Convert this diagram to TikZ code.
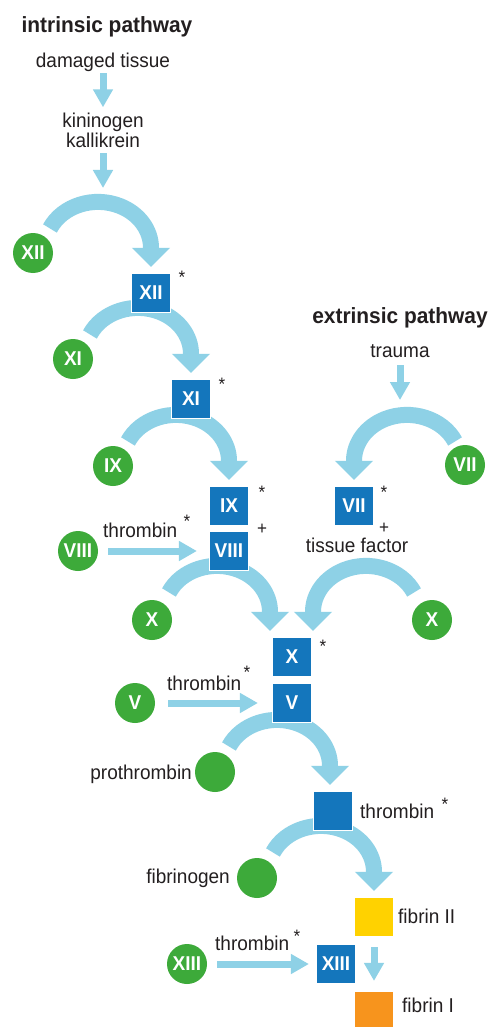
\documentclass[tikz,border=0pt]{standalone}
\usepackage{fontspec}
\setmainfont[FakeStretch=0.95]{Liberation Sans}
\usetikzlibrary{arrows.meta,calc}
\definecolor{flowc}{RGB}{142,209,230}
\definecolor{boxc}{RGB}{20,118,188}
\definecolor{greenc}{RGB}{61,170,58}
\definecolor{yelc}{RGB}{255,210,0}
\definecolor{orac}{RGB}{247,148,29}
\definecolor{textc}{RGB}{35,31,32}
\pgfdeclarelayer{bg}
\pgfsetlayers{bg,main}
\tikzset{
  flow/.style={draw=flowc, line width=16pt, -{Triangle[width=37pt,length=19pt]}},
  sarrow/.style={draw=flowc, line width=7pt, -{Triangle[width=19pt,length=18pt]}},
  fac/.style={circle, fill=greenc, minimum size=40pt, inner sep=0pt, text=white,
    font=\bfseries\fontsize{20}{20}\selectfont},
  act/.style={rectangle, fill=boxc, draw=white, line width=1.2pt, minimum size=39pt,
    inner sep=0pt, text=white, font=\bfseries\fontsize{20}{20}\selectfont},
  lab/.style={text=textc, font=\fontsize{20}{20}\selectfont, inner sep=0pt},
  ttl/.style={text=textc, font=\bfseries\fontsize{22}{22}\selectfont, inner sep=0pt},
  ast/.style={text=textc, font=\fontsize{18}{18}\selectfont, inner sep=0pt, anchor=base},
}
% #1 target box, #2 x offset of tip, #3 side: 1 = comes from left, -1 = comes from right
\newcommand\feedarc[3]{%
  \draw[flow] ($(#1.north)+({(#2)-(#3)*53+53*cos(90+(#3)*65)},{25+46*sin(90+(#3)*65)})$)
    arc[start angle={90+(#3)*65}, end angle={90-(#3)*90}, x radius=53pt, y radius=46pt]
    -- ($(#1.north)+(#2,6)$);}
\begin{document}
\begin{tikzpicture}[x=1pt,y=1pt]
\useasboundingbox (0,0) rectangle (490,-1027);

% titles and labels
\node[ttl, anchor=base] (tin) at (107,-33) {intrinsic pathway};
\node[lab, anchor=base] (dam) at (103,-68) {damaged tissue};
\node[lab, anchor=base] (kin1) at (103,-128) {kininogen};
\node[lab, anchor=base] (kin2) at (103,-148) {kallikrein};
\coordinate (kt) at (103,-188);
\node[ttl, anchor=base] (tex) at (400,-323) {extrinsic pathway};
\node[lab, anchor=base] (trau) at (400,-357) {trauma};
\coordinate (tt) at (400,-400);

% factors (circles)
\node[fac] (c12) at (33,-253) {XII};
\node[fac] (c11) at (73,-359) {XI};
\node[fac] (c9) at (113,-466) {IX};
\node[fac] (c8) at (78,-551) {VIII};
\node[fac] (c10a) at (152,-620) {X};
\node[fac] (c5) at (135,-703) {V};
\node[fac] (cpro) at (215,-772) {};
\node[fac] (cfib) at (257,-878) {};
\node[fac] (c13) at (187,-964) {XIII};
\node[fac] (c7) at (465,-465) {VII};
\node[fac] (c10b) at (432,-620) {X};

% activated (boxes)
\node[act] (b12) at (151,-293) {XII};
\node[act] (b11) at (191,-399) {XI};
\node[act] (b9) at (229,-506) {IX};
\node[act] (b8) at (229,-551) {VIII};
\node[act] (b7) at (354,-506) {VII};
\node[act] (b10) at (292,-657) {X};
\node[act] (b5) at (292,-703) {V};
\node[act] (bthr) at (333,-811) {};
\node[act] (b13) at (336,-964) {XIII};
\node[act, fill=yelc] (bf2) at (374,-917) {};
\node[act, fill=orac] (bf1) at (374,-1011) {};

% side labels
\node[lab, anchor=base east] (lpro) at (192,-779) {prothrombin};
\node[lab, anchor=base east] (lfib) at (230,-883) {fibrinogen};
\node[lab, anchor=base west] (lthr) at (360,-818) {thrombin};
\node[ast] (athr) at (445,-810) {*};
\node[lab, anchor=base west] (lf2) at (398,-923) {fibrin II};
\node[lab, anchor=base west] (lf1) at (402,-1012) {fibrin I};
\node[lab, anchor=base] (ltf) at (357,-552) {tissue factor};

% thrombin labels on straight arrows
\node[lab, anchor=base west] (th8) at (103,-537) {thrombin};
\node[ast] (a8) at (187,-527) {*};
\node[lab, anchor=base west] (th5) at (167,-690) {thrombin};
\node[ast] (a5) at (247,-678) {*};
\node[lab, anchor=base west] (th13) at (215,-950) {thrombin};
\node[ast] (a13) at (297,-942) {*};

% asterisks and plus signs at boxes
\node[ast] (a12) at (182,-283) {*};
\node[ast] (a11) at (222,-390) {*};
\node[ast] (a9) at (262,-498) {*};
\node[ast] (p9) at (262,-534) {+};
\node[ast] (a7) at (384,-498) {*};
\node[ast] (p7) at (384,-533) {+};
\node[ast] (a10) at (323,-652) {*};

\begin{pgfonlayer}{bg}
  \fill[white] (0,0) rectangle (490,-1027);
  \draw[sarrow, shorten <=1pt, shorten >=6pt] (dam.south) -- (kin1.north);
  \draw[sarrow, shorten <=5pt] (kin2.south) -- (kt);
  \draw[sarrow, shorten <=8pt] (trau.south) -- (tt);
  \draw[sarrow, shorten <=10pt, shorten >=12pt] (c8.east) -- (b8.west);
  \draw[sarrow, shorten <=13pt, shorten >=14pt] (c5.east) -- (b5.west);
  \draw[sarrow, shorten <=10pt, shorten >=7pt] (c13.east) -- (b13.west);
  \draw[sarrow, shorten <=10pt, shorten >=10pt] (bf2.south) -- (bf1.north);

  \feedarc{b12}{0}{1}
  \feedarc{b11}{0}{1}
  \feedarc{b9}{0}{1}
  \feedarc{b7}{0}{-1}
  \feedarc{b10}{-22}{1}
  \feedarc{b10}{21}{-1}
  \feedarc{bthr}{-3}{1}
  \feedarc{bf2}{0}{1}
\end{pgfonlayer}
\end{tikzpicture}
\end{document}
